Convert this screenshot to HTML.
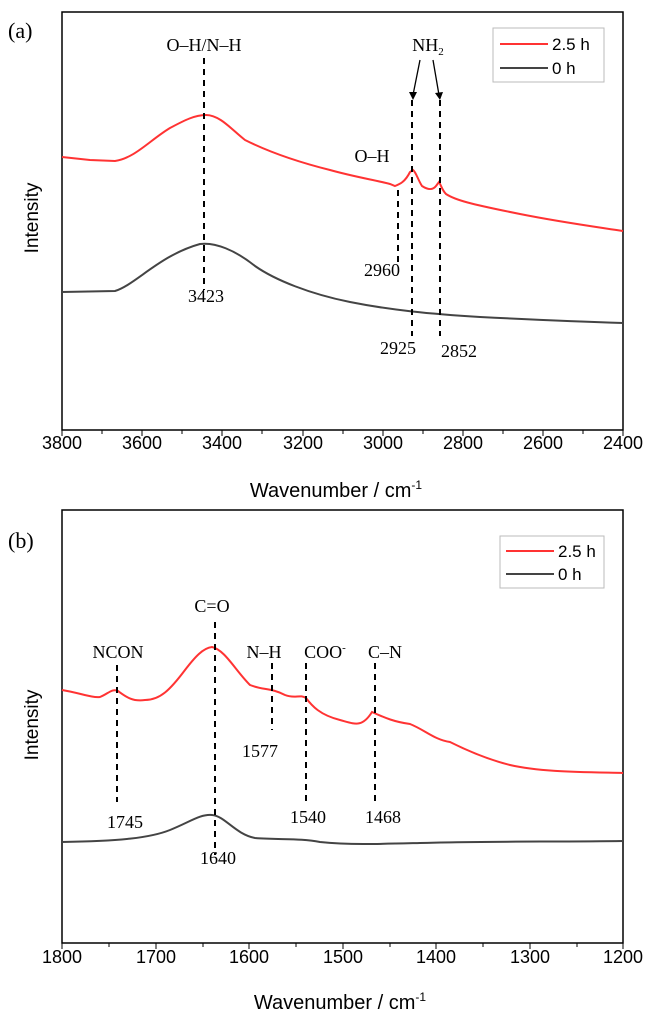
<!DOCTYPE html>
<html><head><meta charset="utf-8"><style>
body{margin:0;background:#fff}
svg text{font-family:"Liberation Sans",sans-serif}
svg .s, svg .s text{font-family:"Liberation Serif",serif;font-size:18px}
.t{font-size:18px;text-anchor:middle}
</style></head><body>
<svg width="657" height="1017" viewBox="0 0 657 1017">
<g fill="none" stroke="#000">
<rect x="62" y="12" width="561" height="418" stroke-width="1.5"/>
<rect x="62" y="510" width="561" height="433" stroke-width="1.5"/>
<path d="M62 430v6M102 430v4M142 430v6M182 430v4M222 430v6M262 430v4M303 430v6M343 430v4M383 430v6M423 430v4M463 430v6M503 430v4M543 430v6M583 430v4M623 430v6"/>
<path d="M62 943v6M109 943v4M156 943v6M203 943v4M249 943v6M296 943v4M343 943v6M390 943v4M436 943v6M483 943v4M530 943v6M577 943v4M623 943v6"/>
</g>
<g class="t">
<text x="62" y="449">3800</text><text x="142" y="449">3600</text><text x="222" y="449">3400</text><text x="303" y="449">3200</text><text x="383" y="449">3000</text><text x="463" y="449">2800</text><text x="543" y="449">2600</text><text x="623" y="449">2400</text>
<text x="62" y="963">1800</text><text x="156" y="963">1700</text><text x="249" y="963">1600</text><text x="343" y="963">1500</text><text x="436" y="963">1400</text><text x="530" y="963">1300</text><text x="623" y="963">1200</text>
</g>
<text x="336" y="497" class="t" style="font-size:20px">Wavenumber / cm<tspan font-size="12" dy="-8">-1</tspan></text>
<text x="340" y="1009" class="t" style="font-size:20px">Wavenumber / cm<tspan font-size="12" dy="-8">-1</tspan></text>
<text transform="translate(38,218) rotate(-90)" class="t" style="font-size:19px">Intensity</text>
<text transform="translate(38,725) rotate(-90)" class="t" style="font-size:19px">Intensity</text>
<g class="s"><text x="8" y="38" style="font-size:22px">(a)</text>
<text x="8" y="548" style="font-size:22px">(b)</text></g>
<!-- legends -->
<rect x="493" y="28" width="111" height="54" fill="none" stroke="#bbb"/>
<line x1="500" y1="44" x2="548" y2="44" stroke="#f33" stroke-width="2"/><text x="552" y="50" font-size="17">2.5 h</text>
<line x1="500" y1="68" x2="548" y2="68" stroke="#444" stroke-width="2"/><text x="552" y="74" font-size="17">0 h</text>
<rect x="500" y="536" width="104" height="52" fill="none" stroke="#bbb"/>
<line x1="506" y1="551" x2="554" y2="551" stroke="#f33" stroke-width="2"/><text x="558" y="557" font-size="17">2.5 h</text>
<line x1="506" y1="574" x2="554" y2="574" stroke="#444" stroke-width="2"/><text x="558" y="580" font-size="17">0 h</text>
<!-- curves a -->
<path fill="none" stroke="#f33" stroke-width="2" d="M62 157 L90 160 L115 161 C135 158 150 140 170 128 C185 120 195 115 206 115 C220 115 232 130 245 140 C265 150 290 160 330 170 C355 177 375 180 390 184 L395 186 C400 184 405 182 410 172 L413 170 C416 172 418 180 422 186 C428 190 433 190 436 186 L439 182 C441 185 442 190 446 194 C455 200 470 204 520 214 C560 222 590 226 623 231"/>
<path fill="none" stroke="#444" stroke-width="2" d="M62 292 L115 291 C135 285 160 255 200 244 C215 242 235 250 255 266 C275 280 310 294 350 302 C390 310 430 314 480 317 C540 320 590 322 623 323"/>
<!-- curves b -->
<path fill="none" stroke="#f33" stroke-width="2" d="M62 690 C80 693 92 698 100 697 C108 694 112 688 118 691 C125 696 132 702 145 700 C160 700 170 690 185 670 C195 657 203 648 212 647 C225 650 235 670 250 685 C262 690 272 688 285 695 C295 699 300 694 306 698 C312 706 320 715 340 720 C355 724 362 728 372 712 C385 718 395 722 410 724 C425 730 435 740 450 742 C470 752 490 760 510 765 C540 772 580 772 623 773"/>
<path fill="none" stroke="#444" stroke-width="2" d="M62 842 C120 841 150 838 170 830 C190 822 200 814 212 815 C225 816 235 834 255 838 C280 840 300 838 320 842 C350 845 380 844 420 843 C480 841 560 842 623 841"/>
<!-- dashes -->
<g stroke="#000" stroke-width="2" stroke-dasharray="6,5" fill="none">
<path d="M204 58V290M398 190V262M412 100V336M440 100V336"/>
<path d="M117 665V802M215 622V855M272 663V730M306 663V806M375 663V806"/>
</g>
<g stroke="#000" stroke-width="1.3" fill="none"><path d="M420 60L413 95M433 60L439 95"/></g>
<path d="M409 92L413 100L417 92ZM435 93L440 100L443 92Z" fill="#000"/>
<g class="s" text-anchor="middle">
<text x="204" y="51">O–H/N–H</text>
<text x="428" y="51">NH<tspan font-size="11" dy="4">2</tspan></text>
<text x="372" y="162">O–H</text>
<text x="382" y="276">2960</text>
<text x="206" y="302">3423</text>
<text x="398" y="354">2925</text>
<text x="459" y="357">2852</text>
<text x="212" y="612">C=O</text>
<text x="118" y="658">NCON</text>
<text x="264" y="658">N–H</text>
<text x="325" y="658">COO<tspan font-size="11" dy="-7">-</tspan></text>
<text x="385" y="658">C–N</text>
<text x="260" y="757">1577</text>
<text x="125" y="828">1745</text>
<text x="308" y="823">1540</text>
<text x="383" y="823">1468</text>
<text x="218" y="864">1640</text>
</g>
</svg>
</body></html>
